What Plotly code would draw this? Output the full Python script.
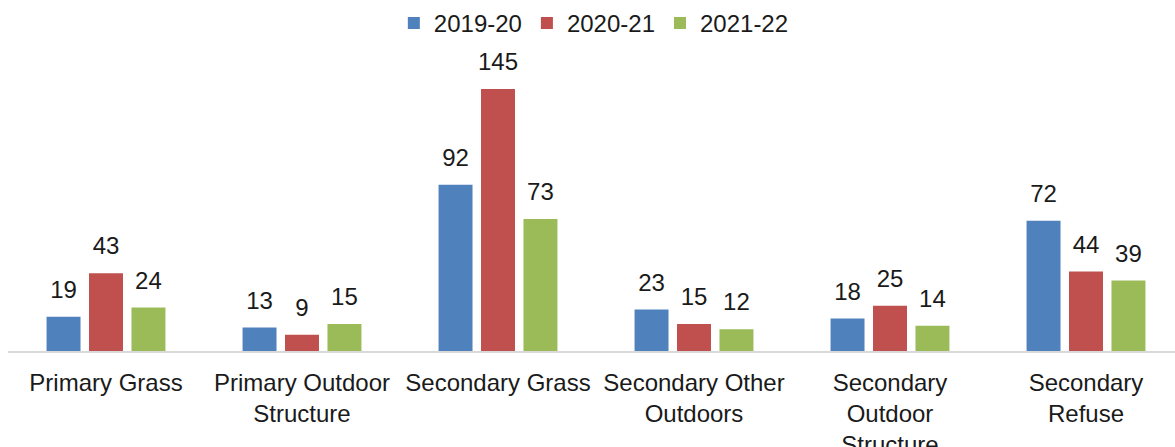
import plotly.graph_objects as go

categories = ["Primary Grass", "Primary Outdoor<br>Structure", "Secondary Grass",
              "Secondary Other<br>Outdoors", "Secondary<br>Outdoor<br>Structure",
              "Secondary<br>Refuse"]
series_names = ["2019-20", "2020-21", "2021-22"]
vals_1920 = [19, 13, 92, 23, 18, 72]
vals_2021 = [43, 9, 145, 15, 25, 44]
vals_2122 = [24, 15, 73, 12, 14, 39]
colors = ["#4F81BD", "#C0504D", "#9BBB59"]

font_family = "Liberation Sans, Arial, sans-serif"
label_pad = 6  # invisible spacer (y units) that lifts value labels off the bars

fig = go.Figure()
for name, vals, col in zip(series_names, [vals_1920, vals_2021, vals_2122], colors):
    fig.add_trace(go.Bar(
        x=categories, y=vals, name=name, offsetgroup=name,
        marker=dict(color=col, line=dict(width=0)),
        hoverinfo="x+y+name",
    ))
    # transparent spacer bar sitting on top of each real bar, carries the label
    fig.add_trace(go.Bar(
        x=categories, y=[label_pad] * len(vals), base=vals, offsetgroup=name,
        marker=dict(color="rgba(0,0,0,0)", line=dict(width=0)),
        text=vals, textposition="outside", constraintext="none",
        textfont=dict(size=24, color="#1a1a1a", family=font_family),
        cliponaxis=False, showlegend=False, hoverinfo="skip",
    ))

fig.update_layout(
    width=1175, height=447,
    barmode="group", bargap=0.35, bargroupgap=0.2,
    plot_bgcolor="white", paper_bgcolor="white",
    margin=dict(l=8, r=0, t=60, b=96),
    font=dict(family=font_family, size=24, color="#1a1a1a"),
    legend=dict(orientation="h", x=0.502, xanchor="center", y=0.998, yanchor="top",
                yref="container", font=dict(size=24), itemwidth=30,
                traceorder="normal"),
    showlegend=True,
)

fig.update_xaxes(
    range=[-0.5, 5.5 - 9 / 196], automargin=False,
    showline=True, linecolor="#D9D9D9", linewidth=2,
    ticks="outside", ticklen=9, tickcolor="rgba(0,0,0,0)",
    tickfont=dict(size=24), showgrid=False,
)
fig.update_yaxes(range=[0, 161], visible=False, showgrid=False, zeroline=False,
                 automargin=False)

fig.write_html("out.html", config={"displayModeBar": False},
               post_script="document.body.style.margin='0';")
